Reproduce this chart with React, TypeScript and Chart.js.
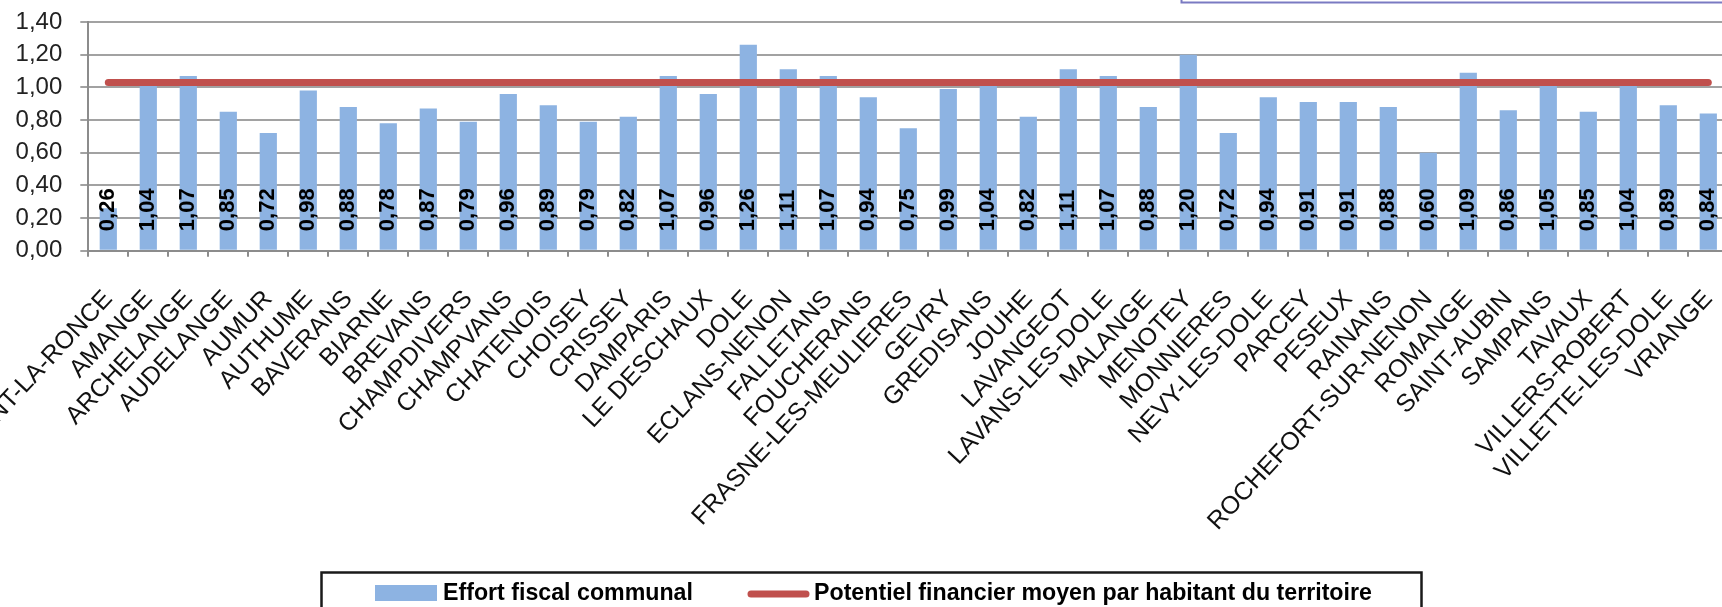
import React, { useEffect, useRef } from 'react';
import { Chart, registerables } from 'chart.js';

Chart.register(...registerables);

const communes = [
  'ABERGEMENT-LA-RONCE', 'AMANGE', 'ARCHELANGE', 'AUDELANGE', 'AUMUR', 'AUTHUME', 'BAVERANS',
  'BIARNE', 'BREVANS', 'CHAMPDIVERS', 'CHAMPVANS', 'CHATENOIS', 'CHOISEY', 'CRISSEY',
  'DAMPARIS', 'LE DESCHAUX', 'DOLE', 'ECLANS-NENON', 'FALLETANS', 'FOUCHERANS',
  'FRASNE-LES-MEULIERES', 'GEVRY', 'GREDISANS', 'JOUHE', 'LAVANGEOT', 'LAVANS-LES-DOLE',
  'MALANGE', 'MENOTEY', 'MONNIERES', 'NEVY-LES-DOLE', 'PARCEY', 'PESEUX', 'RAINANS',
  'ROCHEFORT-SUR-NENON', 'ROMANGE', 'SAINT-AUBIN', 'SAMPANS', 'TAVAUX', 'VILLERS-ROBERT',
  'VILLETTE-LES-DOLE', 'VRIANGE',
];

const effortFiscal = [
  0.26, 1.04, 1.07, 0.85, 0.72, 0.98, 0.88,
  0.78, 0.87, 0.79, 0.96, 0.89, 0.79, 0.82,
  1.07, 0.96, 1.26, 1.11, 1.07, 0.94,
  0.75, 0.99, 1.04, 0.82, 1.11, 1.07,
  0.88, 1.20, 0.72, 0.94, 0.91, 0.91, 0.88,
  0.60, 1.09, 0.86, 1.05, 0.85, 1.04,
  0.89, 0.84,
];

const potentielMoyen = 1.03;
const potentielSeries = communes.map(() => potentielMoyen);

const yMin = 0;
const yMax = 1.4;
const yStep = 0.2;

const legendLabels = ['Effort fiscal communal', 'Potentiel financier moyen par habitant du territoire'];

const BAR_COLOR = '#8DB3E2';
const LINE_COLOR = '#C0504D';
const FONT = '"Liberation Sans", Arial, sans-serif';

const fr = (v: number) => v.toFixed(2).replace('.', ',');

const CANVAS_W = 1740;
const CANVAS_H = 640;
const AREA_LEFT = 88.3;
const AREA_TOP = 22;
const AREA_BOTTOM = 250.7;
const AREA_RIGHT = 1728.3;

const valueLabelsPlugin = {
  id: 'valueLabels',
  afterDatasetsDraw(chart: any) {
    const meta = chart.getDatasetMeta(1);
    const ctx = chart.ctx;
    const base = chart.scales.y.getPixelForValue(0);
    ctx.save();
    ctx.font = `bold 22px ${FONT}`;
    ctx.fillStyle = '#000';
    ctx.textAlign = 'left';
    ctx.textBaseline = 'middle';
    meta.data.forEach((bar: any, i: number) => {
      ctx.save();
      ctx.translate(bar.x, base - 19.5);
      ctx.rotate(-Math.PI / 2);
      ctx.fillText(fr(effortFiscal[i]), 0, 0);
      ctx.restore();
    });
    ctx.restore();
  },
};

const decorPlugin = {
  id: 'decor',
  afterDraw(chart: any) {
    const ctx = chart.ctx;
    ctx.save();
    // top-right frame (cut off)
    ctx.strokeStyle = '#7A7AC2';
    ctx.lineWidth = 2;
    ctx.strokeRect(1181.5, -20, 700, 22.5);

    // legend box
    ctx.strokeStyle = '#1a1a1a';
    ctx.lineWidth = 2.5;
    ctx.strokeRect(321.5, 572.5, 1100, 100);

    ctx.font = `bold 23.2px ${FONT}`;
    ctx.textBaseline = 'middle';
    ctx.textAlign = 'left';

    // bar swatch
    ctx.fillStyle = BAR_COLOR;
    ctx.fillRect(375, 585, 62, 16);
    ctx.fillStyle = '#000';
    ctx.fillText(legendLabels[0], 443, 594);

    // line swatch
    ctx.strokeStyle = LINE_COLOR;
    ctx.lineWidth = 7;
    ctx.lineCap = 'round';
    ctx.beginPath();
    ctx.moveTo(751, 594);
    ctx.lineTo(806, 594);
    ctx.stroke();
    ctx.fillStyle = '#000';
    ctx.fillText(legendLabels[1], 814, 594);
    ctx.restore();
  },
};

export default function App() {
  const ref = useRef<HTMLCanvasElement | null>(null);

  useEffect(() => {
    document.body.style.margin = '0';
    document.body.style.overflow = 'hidden';
    document.documentElement.style.overflow = 'hidden';
    const canvas = ref.current;
    if (!canvas) return;
    Chart.defaults.font.family = FONT;

    const chart = new Chart(canvas, {
      type: 'bar',
      data: {
        labels: communes,
        datasets: [
          {
            type: 'line',
            label: legendLabels[1],
            data: potentielSeries,
            borderColor: LINE_COLOR,
            backgroundColor: LINE_COLOR,
            borderWidth: 7,
            borderCapStyle: 'round',
            pointRadius: 0,
            pointHoverRadius: 0,
            fill: false,
            order: 0,
          } as any,
          {
            type: 'bar',
            label: legendLabels[0],
            data: effortFiscal,
            backgroundColor: BAR_COLOR,
            borderWidth: 0,
            categoryPercentage: 1,
            barPercentage: 0.43,
            order: 1,
          },
        ],
      },
      options: {
        responsive: false,
        animation: false,
        devicePixelRatio: 1,
        layout: {
          padding: { left: 0, top: AREA_TOP, right: CANVAS_W - AREA_RIGHT, bottom: 0 },
        },
        plugins: {
          legend: { display: false },
          tooltip: { enabled: false },
          title: { display: false },
        },
        scales: {
          x: {
            offset: true,
            grid: {
              display: true,
              offset: true,
              drawOnChartArea: false,
              drawTicks: true,
              tickLength: 6,
              color: '#8c8c8c',
              lineWidth: 2,
            },
            border: { display: true, color: '#8c8c8c', width: 2 },
            ticks: {
              autoSkip: false,
              minRotation: 47,
              maxRotation: 47,
              padding: 28,
              color: '#111',
              font: { size: 25, family: FONT },
            },
            afterFit(scale: any) {
              scale.height = CANVAS_H - AREA_BOTTOM;
              scale.paddingLeft = 0;
              scale.paddingRight = 0;
            },
          },
          y: {
            min: yMin,
            max: yMax,
            grid: {
              color: '#a2a2a2',
              lineWidth: 2,
              tickLength: 8,
              drawTicks: true,
            },
            border: { display: true, color: '#8c8c8c', width: 2 },
            ticks: {
              stepSize: yStep,
              padding: 18,
              color: '#222',
              font: { size: 24, family: FONT },
              callback: (v: any) => fr(Number(v)),
            },
            afterFit(scale: any) {
              scale.width = AREA_LEFT;
              scale.paddingTop = 0;
              scale.paddingBottom = 0;
            },
          },
        },
      },
      plugins: [valueLabelsPlugin, decorPlugin],
    });

    return () => chart.destroy();
  }, []);

  return (
    <div style={{ width: 1722, height: 607, overflow: 'hidden', position: 'relative', background: '#fff' }}>
      <canvas ref={ref} width={CANVAS_W} height={CANVAS_H} style={{ display: 'block' }} />
    </div>
  );
}
